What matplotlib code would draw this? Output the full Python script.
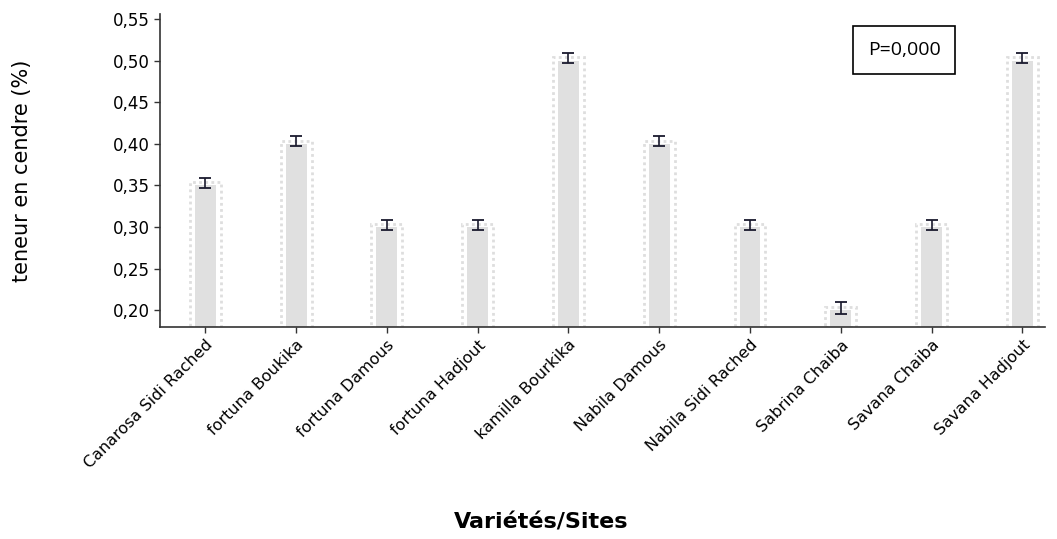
import matplotlib
matplotlib.use("Agg")
import matplotlib.pyplot as plt
import numpy as np

categories = ["Canarosa Sidi Rached", "fortuna Boukika", "fortuna Damous", "fortuna Hadjout",
              "kamilla Bourkika", "Nabila Damous", "Nabila Sidi Rached", "Sabrina Chaiba",
              "Savana Chaiba", "Savana Hadjout"]
values = [0.35, 0.40, 0.30, 0.30, 0.50, 0.40, 0.30, 0.20, 0.30, 0.50]
errors = [0.006, 0.006, 0.006, 0.006, 0.006, 0.006, 0.006, 0.007, 0.006, 0.006]
yticks = [0.20, 0.25, 0.30, 0.35, 0.40, 0.45, 0.50, 0.55]

plt.rcParams['font.family'] = ['DejaVu Sans']
fig = plt.figure(figsize=(10.57, 5.39), dpi=100)
ax = fig.add_axes([160 / 1057, 1 - 327 / 539, 885 / 1057, 313 / 539])

x = np.arange(len(categories))
bottom = 0.18
heights = [v - bottom + 0.004 for v in values]
# dotted halo around bars
ax.bar(x, heights, bottom=bottom, width=0.34, color="none", edgecolor="#dedede",
       linestyle=(0, (1, 1.2)), linewidth=2.0, zorder=1)
ax.bar(x, [v - bottom for v in values], bottom=bottom, width=0.23, color="#e0e0e0",
       edgecolor="none", zorder=2)
ax.errorbar(x, [v + 0.003 for v in values], yerr=errors, fmt="none", ecolor="#1a1a2e",
            elinewidth=1.2, capsize=4, capthick=1.3, zorder=3)

ax.set_xlim(-0.5, 9.25)
ax.set_ylim(bottom, 0.556)
ax.set_yticks(yticks)
ax.set_yticklabels([f"{t:.2f}".replace(".", ",") for t in yticks], fontsize=12)
ax.set_xticks(x)
ax.set_xticklabels(categories, rotation=45, ha="right", rotation_mode="anchor", fontsize=11.5)
ax.tick_params(axis="both", length=4, width=1, color="#333333")
for s in ["top", "right"]:
    ax.spines[s].set_visible(False)
for s in ["left", "bottom"]:
    ax.spines[s].set_color("#333333")
    ax.spines[s].set_linewidth(1.2)

fig.text(22 / 1057, 1 - 171 / 539, "teneur en cendre (%)", rotation=90, fontsize=15,
         ha="center", va="center")
fig.text(541 / 1057, 1 - 522 / 539, "Variétés/Sites", fontsize=16, fontweight="bold",
         ha="center", va="center")
fig.text(904 / 1057, 1 - 50 / 539, "P=0,000", fontsize=14, family="Open Sans",
         ha="center", va="center",
         bbox=dict(boxstyle="square,pad=0.75", facecolor="white", edgecolor="black", linewidth=1.2))

fig.savefig("out.png", dpi=100)
